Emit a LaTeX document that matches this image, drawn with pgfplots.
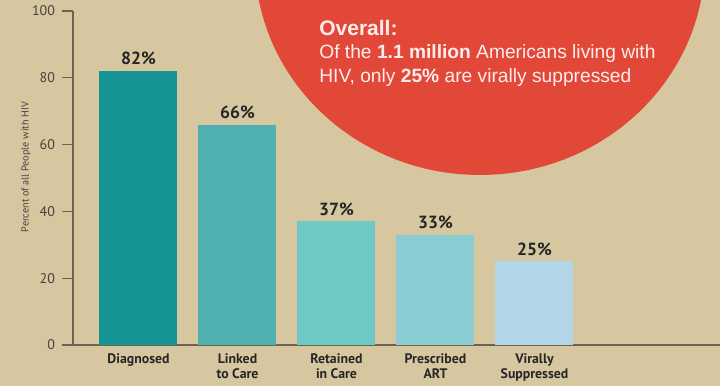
\documentclass[border=0pt]{standalone}
\usepackage{fontspec}
\setmainfont{PT Sans}
\newfontfamily\arial{Liberation Sans}
\usepackage{pgfplots}
\pgfplotsset{compat=1.18}
\usetikzlibrary{backgrounds}
\definecolor{bg}{RGB}{214,199,160}
\definecolor{circ}{RGB}{226,72,56}
\definecolor{c1}{RGB}{22,148,150}
\definecolor{c2}{RGB}{80,175,175}
\definecolor{c3}{RGB}{110,200,196}
\definecolor{c4}{RGB}{140,205,212}
\definecolor{c5}{RGB}{178,214,232}
\definecolor{axc}{RGB}{110,98,80}
\definecolor{txt}{RGB}{70,66,60}
\begin{document}
\begin{tikzpicture}
\begin{axis}[
  scale only axis,
  width=323.5pt, height=167pt,
  xmin=-0.6616, xmax=5.874, ymin=0, ymax=100,
  clip=false,
  axis lines=left,
  axis line style={-, draw=axc, line width=0.6pt},
  ybar, bar width=39pt,
  ytick={0,20,40,60,80,100},
  tick align=outside,
  major tick length=5.5pt,
  y tick style={draw=axc, line width=0.6pt},
  xtick={0,1,2,3,4},
  x tick style={draw=none},
  xticklabels={Diagnosed,{Linked\\to Care},{Retained\\in Care},{Prescribed\\ART},{Virally\\Suppressed}},
  xticklabel style={align=center, font=\bfseries\fontsize{6.9}{7.5}\selectfont, text=black!85, yshift=4.5pt},
  yticklabel style={font=\fontsize{7}{8}\selectfont, text=txt},
  /pgf/number format/assume math mode=true,
  ylabel={Percent of all People with HIV},
  every axis y label/.style={at={(ticklabel* cs:0.5)}, rotate=90, anchor=center, xshift=5.5pt, yshift=23.5pt, font=\fontsize{5.1}{6}\selectfont, text=txt},
  nodes near coords={\pgfmathprintnumber{\pgfplotspointmeta}\%},
  nodes near coords style={font=\bfseries\fontsize{8.8}{10}\selectfont, text=black!85, yshift=-0.5pt},
  every axis plot/.append style={draw=none, bar shift=0pt},
]
\addplot[fill=c1] coordinates {(0,82)};
\addplot[fill=c2] coordinates {(1,66)};
\addplot[fill=c3] coordinates {(2,37)};
\addplot[fill=c4] coordinates {(3,33)};
\addplot[fill=c5] coordinates {(4,25)};
\coordinate (bl) at (axis cs:-1.399,-12.28);
\coordinate (tr) at (axis cs:5.874,103.29);
\coordinate (ec) at (axis cs:3.449,115.27);
\coordinate (tx) at (axis cs:1.823,97.2);
\end{axis}
\pgfresetboundingbox
\useasboundingbox (bl) rectangle (tr);
\begin{pgfonlayer}{background}
\fill[bg] (bl) rectangle (tr);
\begin{scope}
\clip (bl) rectangle (tr);
\fill[circ] (ec) ellipse [x radius=112.5pt, y radius=107.5pt];
\end{scope}
\end{pgfonlayer}
\node[anchor=north west, align=left, inner sep=0pt, text=white!93!red, font=\arial] at (tx)
  {{\fontsize{10.5}{12}\selectfont\bfseries Overall:}\\[-0.5pt]
   {\fontsize{9.6}{12}\selectfont Of the \textbf{1.1 million} Americans living with}\\
   {\fontsize{9.6}{12}\selectfont HIV, only \textbf{25\%} are virally suppressed}};
\end{tikzpicture}
\end{document}
